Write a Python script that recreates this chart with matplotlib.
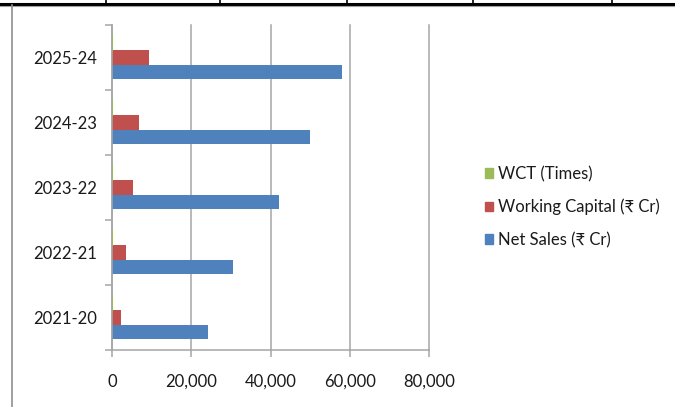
import matplotlib.pyplot as plt
import numpy as np
from matplotlib.lines import Line2D
from matplotlib.patches import Patch

years = ['2021-20', '2022-21', '2023-22', '2024-23', '2025-24']
net_sales = [24300, 30600, 42200, 50000, 58100]
working_capital = [2270, 3530, 5220, 6810, 9340]
wct_times = [10.7, 8.7, 8.1, 7.3, 6.2]

blue = '#4F81BD'
red = '#C0504D'
green = '#9BBB59'
grey = '#a6a6a6'
fonts = ['Lato', 'Noto Sans', 'DejaVu Sans']

plt.rcParams['font.family'] = fonts

fig = plt.figure(figsize=(6.75, 4.07), dpi=100)
ax = fig.add_axes([112 / 675, 57 / 407, 317 / 675, 325 / 407])

y = np.arange(len(years))
h = 0.222
ax.barh(y - h, net_sales, height=h, color=blue, edgecolor='none')
ax.barh(y, working_capital, height=h, color=red, edgecolor='none')
# WCT is only a few units wide, so outline it and lift it above the spine
ax.barh(y + h, wct_times, height=h, color=green, edgecolor=green,
        linewidth=1.3, snap=False, zorder=3)

ax.set_xlim(0, 80000)
ax.set_ylim(-0.5, len(years) - 0.5)
ax.set_xticks(np.arange(0, 80001, 20000))
ax.set_xticklabels([f'{v:,}' for v in range(0, 80001, 20000)])
ax.set_yticks(y)
ax.set_yticklabels(years)
ax.set_yticks(np.arange(-0.5, len(years)), minor=True)

ax.grid(axis='x', color=grey, linewidth=1.1)
for gl in ax.get_xgridlines():
    gl.set_clip_on(False)
ax.set_axisbelow(True)
for s in ['top', 'right']:
    ax.spines[s].set_visible(False)
for s in ['left', 'bottom']:
    ax.spines[s].set_color(grey)
    ax.spines[s].set_linewidth(1.1)

ax.tick_params(axis='y', which='major', length=0, pad=11, labelsize=12, labelcolor='#1a1a1a')
ax.tick_params(axis='y', which='minor', length=5, color=grey, width=1.1)
ax.tick_params(axis='x', length=5, color=grey, width=1.1, pad=12, labelsize=12, labelcolor='#1a1a1a')

handles = [Patch(color=green, label='WCT (Times)'),
           Patch(color=red, label='Working Capital (₹ Cr)'),
           Patch(color=blue, label='Net Sales (₹ Cr)')]
fig.legend(handles=handles, loc='upper left', bbox_to_anchor=(485 / 675, 1 - 166 / 407),
           frameon=False, fontsize=12, handlelength=0.5, handleheight=0.5,
           handletextpad=0.3, labelspacing=1.0, borderpad=0, borderaxespad=0,
           labelcolor='#1a1a1a')

# table cell borders around the chart
W, H = 675, 407
fig.add_artist(Line2D([0, 1], [1 - 3.5 / H] * 2, color='black', linewidth=2.2))
fig.add_artist(Line2D([0, 1], [1 - 5.5 / H] * 2, color='#a0a0a0', linewidth=0.8))
for xd in [106, 220, 347, 473, 612]:
    fig.add_artist(Line2D([xd / W] * 2, [1 - 3 / H, 1], color='black', linewidth=1.2))
fig.add_artist(Line2D([11.5 / W] * 2, [0, 1 - 5 / H], color='#909090', linewidth=1.2))

fig.savefig('out.png', dpi=100)
